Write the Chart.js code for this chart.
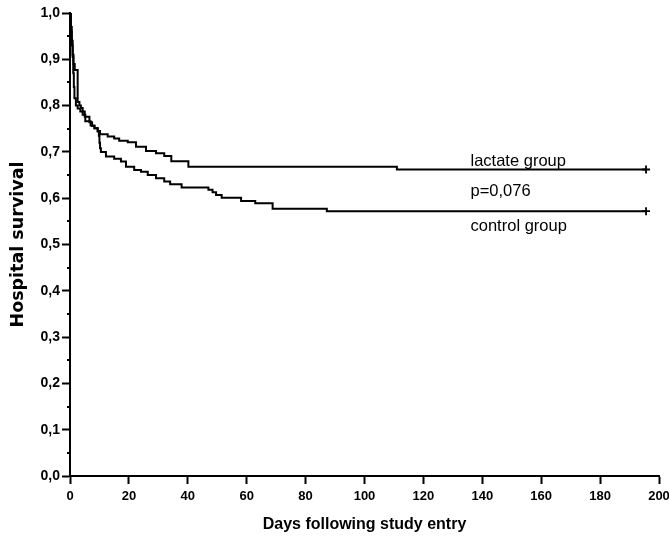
<!DOCTYPE html>
<html>
<head>
<meta charset="utf-8">
<script src="https://cdn.jsdelivr.net/npm/chart.js@4.4.1/dist/chart.umd.min.js"></script>
<style>
  html, body { margin: 0; padding: 0; background: #fff; }
  #wrap { width: 669px; height: 536px; }
</style>
</head>
<body>
<div id="wrap"><canvas id="Chart" width="669" height="536"></canvas></div>
<script>
// Kaplan-Meier steps (days, survival)
const lactateDays = [0, 0.3, 0.6, 0.9, 1.2, 1.6, 2.6, 3.2, 3.7, 4.3, 5.0, 6.6, 7.5, 8.3, 9.4, 10.2, 12.8, 15.0, 16.7, 19.6, 22.4, 25.8, 29.2, 32.0, 34.4, 40.2, 111.0, 195.6];
const lactateSurv = [1.0, 0.97, 0.94, 0.91, 0.89, 0.877, 0.808, 0.800, 0.795, 0.787, 0.776, 0.764, 0.756, 0.751, 0.745, 0.738, 0.733, 0.729, 0.724, 0.721, 0.711, 0.702, 0.697, 0.691, 0.680, 0.668, 0.662, 0.662];

const controlDays = [0, 0.3, 0.6, 0.9, 1.1, 1.3, 1.5, 2.0, 2.6, 3.5, 4.3, 5.2, 7.0, 8.3, 9.4, 9.8, 10.0, 10.2, 10.5, 12.2, 15.0, 17.3, 19.0, 21.8, 24.1, 26.4, 29.2, 32.0, 34.0, 37.9, 47.0, 48.4, 49.6, 51.5, 58.1, 62.9, 68.8, 87.2, 195.6];
const controlSurv = [1.0, 0.96, 0.93, 0.905, 0.87, 0.84, 0.816, 0.80, 0.794, 0.787, 0.78, 0.766, 0.757, 0.751, 0.744, 0.735, 0.72, 0.708, 0.700, 0.690, 0.685, 0.679, 0.668, 0.661, 0.657, 0.650, 0.643, 0.636, 0.630, 0.623, 0.618, 0.613, 0.607, 0.601, 0.594, 0.589, 0.577, 0.572, 0.572];

const censorDay = 195.6;

const xTicks = [0, 20, 40, 60, 80, 100, 120, 140, 160, 180, 200];
const yTicks = [0, 0.1, 0.2, 0.3, 0.4, 0.5, 0.6, 0.7, 0.8, 0.9, 1.0];

const noteTexts = ['lactate group', 'p=0,076', 'control group'];
const noteDay = 136;
const noteSurv = [0.679, 0.614, 0.538];

const toPts = (xs, ys) => xs.map((x, i) => ({ x: x, y: ys[i] }));

// minor y ticks + text notes
const extras = {
  id: 'extras',
  afterDraw(chart) {
    const { ctx, scales: { x, y } } = chart;
    ctx.save();
    ctx.strokeStyle = '#000';
    ctx.lineWidth = 2;
    for (let i = 0; i < yTicks.length - 1; i++) {
      const py = Math.round(y.getPixelForValue((yTicks[i] + yTicks[i + 1]) / 2));
      ctx.beginPath();
      ctx.moveTo(x.left - 3, py);
      ctx.lineTo(x.left, py);
      ctx.stroke();
    }
    ctx.fillStyle = '#000';
    ctx.font = '16.5px "Liberation Sans"';
    ctx.textAlign = 'left';
    ctx.textBaseline = 'middle';
    noteTexts.forEach((t, i) => {
      ctx.fillText(t, x.getPixelForValue(noteDay), y.getPixelForValue(noteSurv[i]));
    });
    ctx.restore();
  }
};

const data = {
  datasets: [
    {
      label: 'lactate group',
      data: toPts(lactateDays, lactateSurv),
      stepped: 'before',
      borderColor: '#000',
      borderWidth: 2,
      pointRadius: 0,
      fill: false
    },
    {
      label: 'control group',
      data: toPts(controlDays, controlSurv),
      stepped: 'before',
      borderColor: '#000',
      borderWidth: 2,
      pointRadius: 0,
      fill: false
    },
    {
      label: 'censored',
      type: 'scatter',
      data: [
        { x: censorDay, y: lactateSurv[lactateSurv.length - 1] },
        { x: censorDay, y: controlSurv[controlSurv.length - 1] }
      ],
      pointStyle: 'cross',
      pointRadius: 4,
      borderColor: '#000',
      borderWidth: 1.8
    }
  ]
};

const config = {
  type: 'line',
  data,
  options: {
    responsive: false,
    animation: false,
    layout: { padding: { left: 0, right: 0, top: 13, bottom: 0 } },
    scales: {
      x: {
        type: 'linear',
        min: 0,
        max: 200,
        afterBuildTicks: s => { s.ticks = xTicks.map(v => ({ value: v })); },
        afterFit: s => { s.height = 60; s.paddingRight = 10; s.paddingLeft = 0; },
        ticks: {
          color: '#000',
          padding: 5,
          maxRotation: 0,
          font: { family: 'Liberation Sans', size: 13, weight: 'bold' }
        },
        grid: {
          drawOnChartArea: false,
          tickLength: 8,
          tickWidth: 2,
          tickColor: '#000'
        },
        border: { display: true, color: '#000', width: 2 },
        title: {
          display: true,
          text: 'Days following study entry',
          color: '#000',
          padding: { top: 0, bottom: 2 },
          font: { family: 'Liberation Sans', size: 16, weight: 'bold' }
        }
      },
      y: {
        min: 0,
        max: 1,
        afterBuildTicks: s => { s.ticks = yTicks.map(v => ({ value: v })); },
        afterFit: s => { s.width = 70; },
        ticks: {
          color: '#000',
          padding: 2,
          callback: v => v.toFixed(1).replace('.', ','),
          font: { family: 'Liberation Sans', size: 14, weight: 'bold' }
        },
        grid: {
          drawOnChartArea: false,
          tickLength: 8,
          tickWidth: 2,
          tickColor: '#000'
        },
        border: { display: true, color: '#000', width: 2 },
        title: {
          display: true,
          text: 'Hospital survival',
          color: '#000',
          padding: { top: 8, bottom: 0 },
          font: { family: 'DejaVu Sans', size: 17.5, weight: 'bold' }
        }
      }
    },
    plugins: {
      legend: { display: false },
      tooltip: { enabled: false }
    }
  },
  plugins: [extras]
};

const myChart = new Chart(document.getElementById('Chart'), config);
</script>
</body>
</html>
